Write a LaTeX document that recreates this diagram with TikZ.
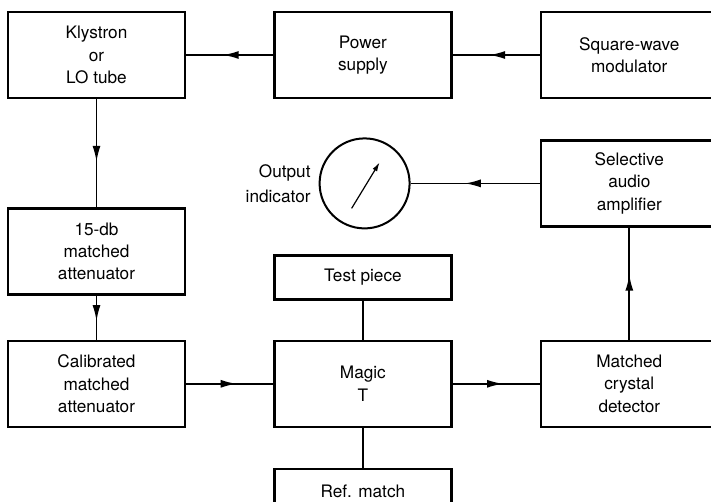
\documentclass[tikz,border=0pt]{standalone}
\usepackage{fontspec}
\setsansfont{TeX Gyre Heros}
\usepackage{tikz}
\usetikzlibrary{arrows.meta,positioning,calc,decorations.markings}

\begin{document}
\begin{tikzpicture}[
  x=0.5pt, y=-0.5pt,
  block/.style={
    draw,
    line width=1.2pt,
    minimum width=88.5pt,
    minimum height=43pt,
    align=center,
    font=\sffamily\fontsize{8.6}{11.2}\selectfont
  },
  thinblock/.style={block,minimum height=22pt},
  link/.style={line width=0.85pt},
  arrow/.style={link,postaction={decorate},
    decoration={markings,mark=at position 0.58 with {\arrow{Latex[length=8pt,width=4pt]}}}}
]
\clip (0,0) rectangle (711,502);
\node[block] (klystron) at (96.5,55) {Klystron\\or\\LO tube};
\node[block,right=43.5pt of klystron] (power) {Power\\supply};
\node[block,right=43.5pt of power] (modulator) {Square-wave\\modulator};
\node[block,below=54pt of klystron] (atten) {15-db\\matched\\attenuator};
\node[block,below=22pt of atten] (calib) {Calibrated\\matched\\attenuator};
\node[block,right=43.5pt of calib] (magic) {Magic\\T};
\node[thinblock,above=19.5pt of magic] (test) {Test piece};
\node[thinblock,below=20pt of magic] (refmatch) {Ref. match};
\node[block,right=43.5pt of magic] (detector) {Matched\\crystal\\detector};
\node[block,above=56pt of detector] (amplifier) {Selective\\audio\\amplifier};
\node[draw,circle,line width=1pt,minimum size=45pt,left=64.5pt of amplifier] (meter) {};
\node[left=0.5pt of meter,align=right,font=\sffamily\fontsize{8.6}{12.5}\selectfont] (meterlabel) {Output\\indicator};
\draw[line width=0.6pt,-{Latex[length=4.5pt,width=2.6pt]}]
  ($(meter.center)+(-13,25)$) -- ($(meter.center)+(15,-21)$);
% signal path
\draw[arrow] (modulator) -- (power);
\draw[arrow] (power) -- (klystron);
\draw[arrow] (klystron) -- (atten);
\draw[arrow] (atten) -- (calib);
\draw[arrow] (calib) -- (magic);
\draw[arrow] (magic) -- (detector);
\draw[arrow] (detector) -- (amplifier);
\draw[arrow] (amplifier) -- (meter);
\draw[link] (test) -- (magic);
\draw[link] (magic) -- (refmatch);
\end{tikzpicture}
\end{document}
